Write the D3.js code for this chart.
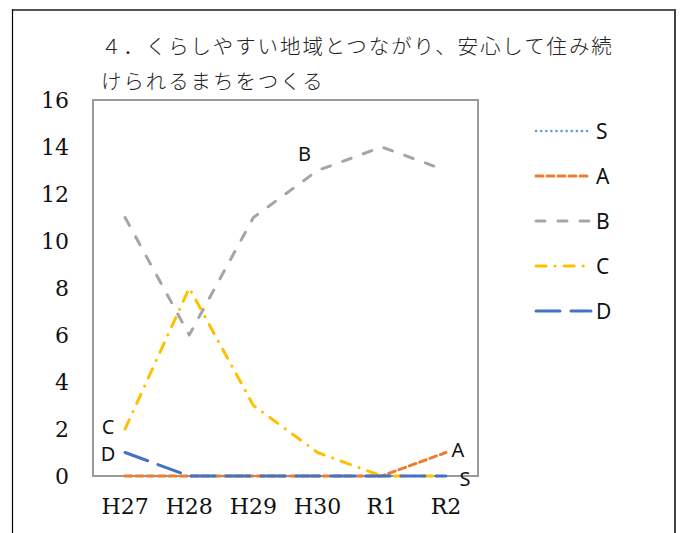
<!DOCTYPE html>
<html>
<head>
<meta charset="utf-8">
<script src="https://cdn.jsdelivr.net/npm/d3@7/dist/d3.min.js"></script>
<style>
  html, body { margin: 0; padding: 0; background: #fff; }
  svg { display: block; }
</style>
</head>
<body>
<script>
// Fiscal years on the x axis
const years = ["H27", "H28", "H29", "H30", "R1", "R2"];
// Rating counts per year
const seriesS = [0, 0, 0, 0, 0, 0];
const seriesA = [0, 0, 0, 0, 0, 1];
const seriesB = [11, 6, 11, 13, 14, 13];
const seriesC = [2, 8, 3, 1, 0, 0];
const seriesD = [1, 0, 0, 0, 0, 0];
const yTicks = [0, 2, 4, 6, 8, 10, 12, 14, 16];
const titleLines = ["４．くらしやすい地域とつながり、安心して住み続", "けられるまちをつくる"];

const W = 682, H = 533;
const svg = d3.select("body").append("svg").attr("width", W).attr("height", H);

// outer frame (open at the bottom)
svg.append("line").attr("x1", 12).attr("x2", 676).attr("y1", 10).attr("y2", 10)
  .attr("stroke", "#555").attr("stroke-width", 2);
svg.append("line").attr("x1", 12.5).attr("x2", 12.5).attr("y1", 9).attr("y2", H)
  .attr("stroke", "#000").attr("stroke-width", 1.2);
svg.append("line").attr("x1", 675).attr("x2", 675).attr("y1", 9).attr("y2", H)
  .attr("stroke", "#444").attr("stroke-width", 2);

// title
const title = svg.append("g").attr("font-family", "'Noto Sans CJK JP', sans-serif")
  .attr("font-size", 20.5).attr("font-weight", 300).attr("letter-spacing", 1.9).attr("fill", "#222");
titleLines.forEach((t, i) => {
  title.append("text").attr("x", 101).attr("y", 54 + i * 35).text(t);
});

const plot = { left: 93, right: 478, top: 100, bottom: 476 };

const x = d3.scaleBand().domain(years).range([plot.left, plot.right]);
const y = d3.scaleLinear().domain([0, 16]).range([plot.bottom, plot.top]);
const cx = d => x(d) + x.bandwidth() / 2;

// plot area border
svg.append("rect").attr("x", plot.left).attr("y", plot.top)
  .attr("width", plot.right - plot.left).attr("height", plot.bottom - plot.top)
  .attr("fill", "none").attr("stroke", "#9a9a9a").attr("stroke-width", 2);

// y axis labels
const yAxis = d3.axisLeft(y).tickValues(yTicks).tickSize(0).tickPadding(0);
const gy = svg.append("g").attr("transform", `translate(${69},0)`).call(yAxis);
gy.select(".domain").remove();
gy.selectAll("text").attr("font-family", "'DejaVu Serif', serif").attr("font-size", 22)
  .attr("fill", "#111").attr("dy", "0.36em");

// x axis labels
const xAxis = d3.axisBottom(x).tickSize(0).tickPadding(0);
const gx = svg.append("g").attr("transform", `translate(0,${plot.bottom + 22})`).call(xAxis);
gx.select(".domain").remove();
gx.selectAll("text").attr("font-family", "'DejaVu Serif', serif").attr("font-size", 22)
  .attr("fill", "#111").attr("dy", "0.71em");

const series = [
  { name: "S", values: seriesS, color: "#5B9BD5", dash: "0.1 5", width: 2.5 },
  { name: "A", values: seriesA, color: "#ED7D31", dash: "7 4", width: 3 },
  { name: "B", values: seriesB, color: "#A5A5A5", dash: "9 13", width: 3 },
  { name: "C", values: seriesC, color: "#FFC000", dash: "10 9 0.1 9", width: 3 },
  { name: "D", values: seriesD, color: "#4472C4", dash: "24 11", width: 3 }
];

const line = d3.line().x((d, i) => cx(years[i])).y(d => y(d));

series.forEach(s => {
  svg.append("path").datum(s.values).attr("d", line)
    .attr("fill", "none").attr("stroke", s.color).attr("stroke-width", s.width)
    .attr("stroke-dasharray", s.dash).attr("stroke-linecap", "round")
    .attr("stroke-linejoin", "round");
});

// series labels beside their lines
const labelFont = "'Noto Sans', 'Liberation Sans', sans-serif";
const seriesLabels = [
  { t: "C", xi: 0, v: seriesC[0], dx: -17, dy: -2 },
  { t: "D", xi: 0, v: seriesD[0], dx: -17, dy: 1 },
  { t: "B", xi: 3, v: seriesB[3], dx: -13, dy: -17 },
  { t: "A", xi: 5, v: seriesA[5], dx: 12, dy: -3 },
  { t: "S", xi: 5, v: seriesS[5], dx: 19, dy: 3 }
];
svg.append("g").selectAll("text").data(seriesLabels).join("text")
  .attr("x", d => cx(years[d.xi]) + d.dx)
  .attr("y", d => y(d.v) + d.dy)
  .attr("dy", "0.35em").attr("text-anchor", "middle")
  .attr("font-family", labelFont).attr("font-size", 20).attr("fill", "#111")
  .text(d => d.t);

// legend
const legend = svg.append("g");
series.forEach((s, i) => {
  const ly = 131 + i * 45;
  legend.append("line").attr("x1", 536).attr("x2", 591).attr("y1", ly).attr("y2", ly)
    .attr("stroke", s.color).attr("stroke-width", s.width)
    .attr("stroke-dasharray", s.dash).attr("stroke-linecap", "round");
  legend.append("text").attr("x", 596).attr("y", ly).attr("dy", "0.36em")
    .attr("font-family", labelFont).attr("font-size", 21).attr("fill", "#111")
    .text(s.name);
});
</script>
</body>
</html>
